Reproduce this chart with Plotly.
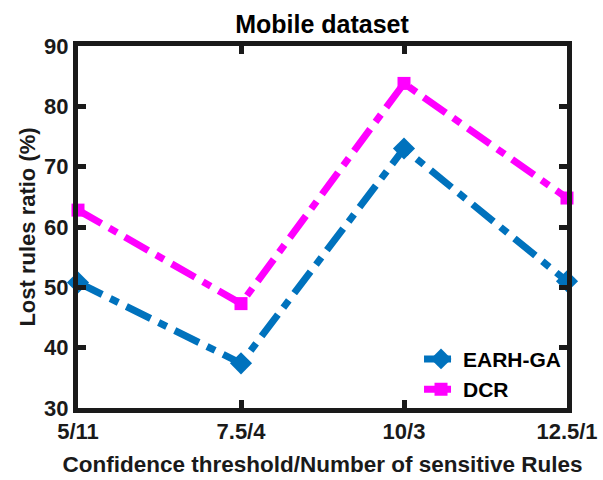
import plotly.graph_objects as go

categories = ["5/11", "7.5/4", "10/3", "12.5/1"]
earh_ga = [50.8, 37.4, 73.0, 51.0]
dcr = [62.8, 47.3, 83.8, 64.8]
yticks = [30, 40, 50, 60, 70, 80, 90]

xpos = list(range(len(categories)))
font_family = "Liberation Sans, Arial, sans-serif"

fig = go.Figure()
fig.add_trace(go.Scatter(
    x=xpos, y=earh_ga, name="<b>EARH-GA</b>", mode="lines+markers",
    line=dict(color="#0072BD", width=7, dash="27px,9px,9px,9px"),
    marker=dict(symbol="diamond", size=17, color="#0072BD"),
    cliponaxis=False,
))
fig.add_trace(go.Scatter(
    x=xpos, y=dcr, name="<b>DCR</b>", mode="lines+markers",
    line=dict(color="#FF00FF", width=7, dash="27px,9px,9px,9px"),
    marker=dict(symbol="square", size=13, color="#FF00FF"),
    cliponaxis=False,
))

axis_common = dict(
    showline=True, linecolor="#1a1a1a", linewidth=5, mirror="ticks",
    ticks="inside", ticklen=8, tickwidth=5, tickcolor="#1a1a1a",
    showgrid=False, zeroline=False, automargin=False,
    tickfont=dict(family=font_family, size=22, color="#1a1a1a"),
)

fig.update_layout(
    width=603, height=480,
    margin=dict(l=78, r=36, t=46, b=72),
    paper_bgcolor="white", plot_bgcolor="white",
    font=dict(family=font_family, color="black"),
    title=dict(text="<b>Mobile dataset</b>", x=0.534, xanchor="center",
               y=0.95, yanchor="middle",
               font=dict(family=font_family, size=25, color="black")),
    xaxis=dict(range=[0, 3], tickvals=xpos,
               ticktext=["<b>%s</b>" % c for c in categories],
               title=dict(text="<b>Confidence threshold/Number of sensitive Rules</b>",
                          font=dict(family=font_family, size=22.5, color="#1a1a1a"),
                          standoff=14),
               **axis_common),
    yaxis=dict(range=[30, 90], tickvals=yticks,
               ticktext=["<b>%d</b>" % v for v in yticks],
               title=dict(text="<b>Lost rules ratio (%)</b>",
                          font=dict(family=font_family, size=22, color="#1a1a1a"),
                          standoff=4),
               **axis_common),
    legend=dict(x=0.998, y=-0.005, xanchor="right", yanchor="bottom",
                bgcolor="rgba(255,255,255,0)", borderwidth=0,
                font=dict(family=font_family, size=21, color="black"),
                itemwidth=34, tracegroupgap=0),
    showlegend=True,
)

fig.write_html("out.html",
               config={"displayModeBar": False},
               post_script="document.body.style.margin='0px';document.body.style.overflow='hidden';")
